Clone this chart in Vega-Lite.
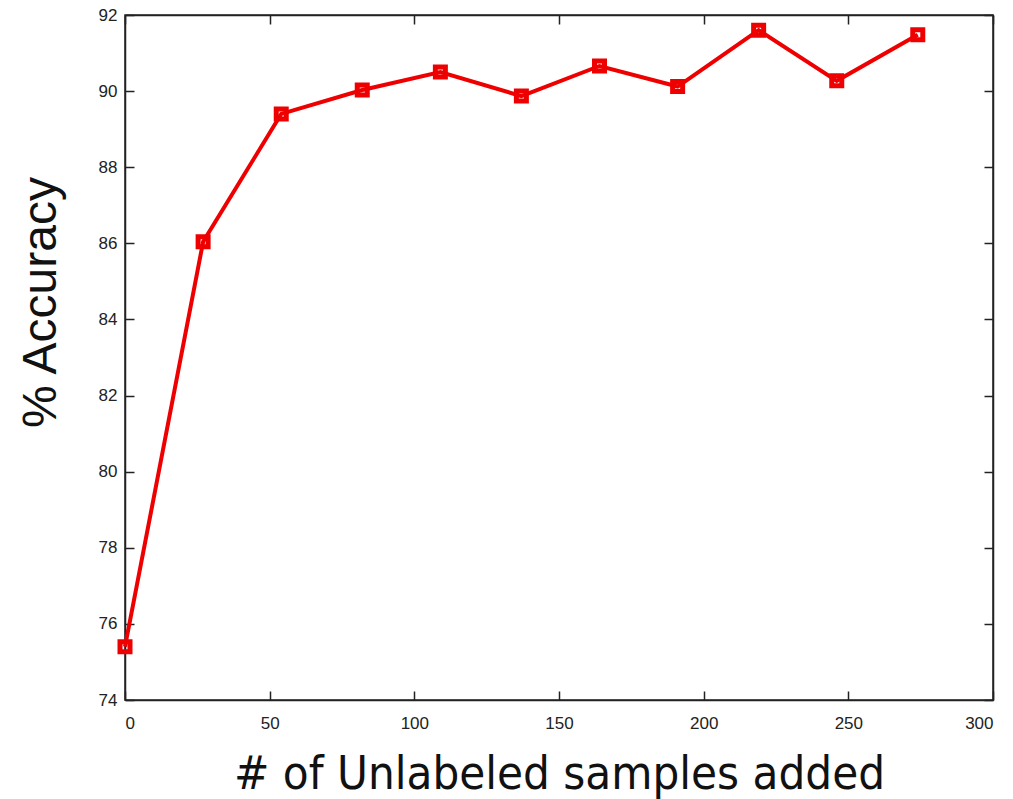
{
  "$schema": "https://vega.github.io/schema/vega-lite/v6.json",
  "width": 868,
  "height": 685,
  "autosize": {"type": "none"},
  "padding": {"left": 125, "top": 15, "right": 20, "bottom": 99},
  "background": "white",
  "config": {
    "view": {"stroke": "#222", "strokeWidth": 1.5},
    "axis": {"grid": false, "domainColor": "#222", "domainWidth": 1.5, "tickColor": "#222", "tickWidth": 1.5, "labelFont": "Liberation Sans", "labelFontSize": 17, "labelColor": "#222"}
  },
  "data": {"values": [
    {"n": 0, "acc": 75.4},
    {"n": 27, "acc": 86.04},
    {"n": 54, "acc": 89.4},
    {"n": 82, "acc": 90.03},
    {"n": 109, "acc": 90.5},
    {"n": 137, "acc": 89.87},
    {"n": 164, "acc": 90.66},
    {"n": 191, "acc": 90.12},
    {"n": 219, "acc": 91.6},
    {"n": 246, "acc": 90.27},
    {"n": 274, "acc": 91.48}
  ]},
  "layer": [
    {
      "mark": {"type": "line", "color": "#ee0000", "strokeWidth": 4},
      "encoding": {
        "x": {"field": "n", "type": "quantitative", "scale": {"domain": [0, 300], "nice": false},
          "axis": {"orient": "bottom", "values": [0, 50, 100, 150, 200, 250, 300], "tickSize": -9, "labelPadding": 24, "title": "# of Unlabeled samples added", "titleFont": "DejaVu Sans Condensed", "titleFontSize": 47, "titleFontWeight": "normal", "titleColor": "#111", "titlePadding": 20}},
        "y": {"field": "acc", "type": "quantitative", "scale": {"domain": [74, 92], "nice": false, "zero": false},
          "axis": {"orient": "left", "values": [74, 76, 78, 80, 82, 84, 86, 88, 90, 92], "tickSize": -9, "labelPadding": 17, "title": "% Accuracy", "titleFont": "Liberation Sans", "titleFontSize": 48, "titleFontWeight": "normal", "titleColor": "#111", "titlePadding": 33, "titleY": 287}}
      }
    },
    {
      "mark": {"type": "point", "shape": "square", "filled": false, "color": "#ee0000", "strokeWidth": 5, "size": 100, "opacity": 1},
      "encoding": {
        "x": {"field": "n", "type": "quantitative",
          "axis": {"orient": "top", "values": [0, 50, 100, 150, 200, 250, 300], "tickSize": -9, "labels": false, "title": null, "domain": true}},
        "y": {"field": "acc", "type": "quantitative",
          "axis": {"orient": "right", "values": [74, 76, 78, 80, 82, 84, 86, 88, 90, 92], "tickSize": -9, "labels": false, "title": null, "domain": true}}
      }
    }
  ],
  "resolve": {"axis": {"x": "independent", "y": "independent"}}
}
